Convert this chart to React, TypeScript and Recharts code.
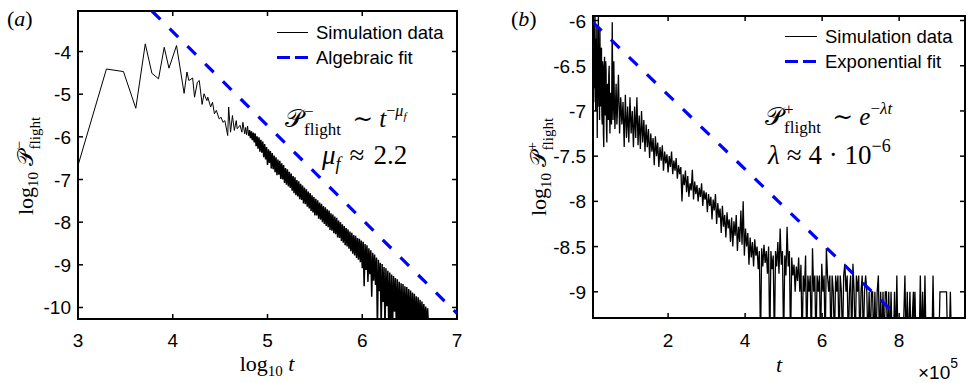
import React from 'react'
import { LineChart, Line, XAxis, YAxis, ReferenceArea } from 'recharts'

// panel (a): log10 t  vs  log10 P-
const simAEarly: [number, number][] = [
  [3.00, -6.67], [3.30, -4.41], [3.48, -4.47], [3.61, -5.33], [3.71, -3.82], [3.78, -4.51],
  [3.85, -4.64], [3.91, -3.90], [3.96, -4.39], [4.04, -3.86], [4.12, -4.98], [4.15, -4.48],
  [4.17, -4.68], [4.21, -4.62], [4.23, -5.07], [4.26, -4.72], [4.28, -4.68], [4.31, -5.24],
  [4.33, -4.99], [4.36, -5.15], [4.37, -5.07], [4.40, -5.30], [4.42, -5.19], [4.44, -5.46],
  [4.46, -5.38], [4.49, -5.58], [4.51, -5.54], [4.53, -5.66], [4.55, -5.62], [4.58, -5.97],
  [4.59, -5.30], [4.61, -5.89], [4.63, -5.50], [4.65, -5.85], [4.67, -5.62], [4.68, -5.81],
  [4.71, -5.73], [4.73, -5.89], [4.74, -5.66], [4.76, -5.93], [4.77, -5.78], [4.78, -5.95],
  [4.79, -5.75], [4.80, -5.97],
]

const simABand: [number, number][] = [
  [4.80, -5.97], [4.81, -5.84], [4.82, -6.03], [4.83, -5.87], [4.84, -6.08], [4.85, -5.90],
  [4.86, -6.13], [4.87, -5.92], [4.88, -6.22], [4.89, -5.99], [4.90, -6.28], [4.91, -6.01],
  [4.92, -6.35], [4.93, -6.07], [4.94, -6.37], [4.95, -6.11], [4.96, -6.48], [4.97, -6.17],
  [4.98, -6.53], [4.99, -6.24], [5.00, -6.66], [5.01, -6.29], [5.02, -6.61], [5.03, -6.33],
  [5.04, -6.74], [5.05, -6.38], [5.06, -6.76], [5.07, -6.44], [5.08, -6.83], [5.09, -6.48],
  [5.10, -6.90], [5.11, -6.53], [5.12, -6.89], [5.13, -6.56], [5.14, -6.99], [5.15, -6.62],
  [5.16, -7.00], [5.17, -6.66], [5.18, -7.08], [5.19, -6.73], [5.20, -7.12], [5.21, -6.76],
  [5.22, -7.16], [5.23, -6.82], [5.24, -7.20], [5.25, -6.86], [5.26, -7.26], [5.27, -6.92],
  [5.28, -7.32], [5.29, -6.95], [5.30, -7.37], [5.31, -7.01], [5.32, -7.40], [5.33, -7.04],
  [5.34, -7.46], [5.35, -7.10], [5.36, -7.48], [5.37, -7.14], [5.38, -7.56], [5.39, -7.19],
  [5.40, -7.58], [5.41, -7.23], [5.42, -7.64], [5.43, -7.28], [5.44, -7.68], [5.45, -7.32],
  [5.46, -7.74], [5.47, -7.37], [5.48, -7.77], [5.49, -7.41], [5.50, -7.84], [5.51, -7.45],
  [5.52, -7.84], [5.53, -7.49], [5.54, -7.92], [5.55, -7.54], [5.56, -7.94], [5.57, -7.57],
  [5.58, -8.00], [5.59, -7.62], [5.60, -8.04], [5.61, -7.65], [5.62, -8.09], [5.63, -7.70],
  [5.64, -8.12], [5.65, -7.73], [5.66, -8.18], [5.67, -7.79], [5.68, -8.20], [5.69, -7.82],
  [5.70, -8.26], [5.71, -7.87], [5.72, -8.28], [5.73, -7.90], [5.74, -8.36], [5.75, -7.96],
  [5.76, -8.37], [5.77, -8.00], [5.78, -8.44], [5.79, -8.05], [5.80, -8.48], [5.81, -8.09],
  [5.82, -8.54], [5.83, -8.14], [5.84, -8.57], [5.85, -8.17], [5.86, -8.62], [5.87, -8.22],
  [5.88, -8.68], [5.89, -8.25], [5.90, -8.74], [5.91, -8.30], [5.92, -8.78], [5.93, -8.32],
  [5.94, -8.84], [5.95, -8.37], [5.96, -8.88], [5.97, -8.39], [5.98, -8.94], [5.99, -8.43],
  [6.00, -9.08], [6.01, -8.46], [6.02, -9.50], [6.03, -8.51], [6.04, -9.12], [6.05, -8.54],
  [6.06, -9.40], [6.07, -8.61], [6.08, -9.22], [6.09, -8.66], [6.10, -9.75], [6.11, -8.72],
  [6.12, -9.37], [6.13, -8.76], [6.14, -9.47], [6.15, -8.83], [6.16, -10.5], [6.17, -8.88],
  [6.18, -9.62], [6.19, -8.95], [6.20, -10.5], [6.21, -8.98], [6.22, -9.87], [6.23, -9.05],
  [6.24, -10.5], [6.25, -9.08], [6.26, -9.97], [6.27, -9.14], [6.28, -10.5], [6.29, -9.18],
  [6.30, -10.5], [6.31, -9.23], [6.32, -10.5], [6.33, -9.26], [6.34, -10.1], [6.35, -9.31],
  [6.36, -10.5], [6.37, -9.34], [6.38, -10.5], [6.39, -9.40], [6.40, -10.5], [6.41, -9.43],
  [6.42, -10.5], [6.43, -9.45], [6.44, -10.5], [6.45, -9.50], [6.46, -10.5], [6.47, -9.52],
  [6.48, -10.5], [6.49, -9.57], [6.50, -10.5], [6.51, -9.60], [6.52, -10.5], [6.53, -9.65],
  [6.54, -10.5], [6.55, -9.68], [6.56, -10.5], [6.57, -9.74], [6.58, -10.5], [6.59, -9.76],
  [6.60, -10.5], [6.61, -9.82], [6.62, -10.5], [6.63, -9.86], [6.64, -10.5], [6.65, -9.92],
  [6.66, -10.5], [6.67, -9.98], [6.68, -10.5], [6.69, -10.02], [6.70, -10.5],
]

const fitA: [number, number][] = [[3.78, -3.05], [7.0, -10.14]]

// panel (b): t (x 1e5)  vs  log10 P+
const simBEarly: [number, number][] = [
  [0.05, -6.20], [0.06, -5.90], [0.07, -6.90], [0.08, -6.10], [0.09, -6.75], [0.10, -5.85],
  [0.11, -6.50], [0.12, -7.00], [0.13, -6.20], [0.14, -6.85], [0.15, -6.05], [0.16, -7.30],
  [0.17, -6.40], [0.18, -6.95], [0.19, -5.90], [0.20, -6.80], [0.21, -6.60], [0.22, -7.10],
  [0.23, -6.10], [0.24, -6.70], [0.25, -6.95], [0.26, -6.35], [0.27, -6.30], [0.28, -7.05],
  [0.29, -7.15], [0.30, -6.45], [0.31, -6.50], [0.32, -7.25], [0.33, -7.40], [0.34, -6.60],
  [0.35, -6.40], [0.36, -6.90], [0.37, -7.05], [0.38, -6.45], [0.39, -6.55], [0.40, -7.20],
  [0.41, -7.35], [0.42, -6.75], [0.43, -6.70], [0.44, -6.95], [0.45, -7.10], [0.46, -6.60],
  [0.47, -6.50], [0.48, -7.00], [0.49, -7.25], [0.50, -6.85], [0.51, -6.80], [0.52, -7.05],
  [0.53, -7.15], [0.54, -6.60], [0.55, -6.02], [0.56, -6.70], [0.57, -7.10], [0.58, -6.80],
  [0.59, -6.45], [0.61, -7.05], [0.62, -7.20], [0.64, -6.85], [0.65, -6.70], [0.67, -7.15],
  [0.68, -7.05], [0.70, -6.75], [0.71, -6.60], [0.73, -7.00], [0.74, -7.25],
]

const simBMain: [number, number][] = [
  [0.77, -6.85], [0.80, -7.15], [0.83, -6.90],
  [0.86, -7.40], [0.89, -6.82], [0.92, -7.30], [0.95, -6.95], [0.98, -7.35], [1.01, -6.85],
  [1.04, -7.25], [1.07, -7.00], [1.10, -7.40], [1.13, -6.95], [1.16, -7.30], [1.19, -6.85],
  [1.22, -7.38], [1.25, -7.05], [1.28, -7.42], [1.31, -7.00], [1.34, -7.35], [1.37, -7.10],
  [1.40, -7.45], [1.43, -7.15], [1.46, -7.40], [1.49, -7.20], [1.52, -7.52], [1.55, -7.25],
  [1.58, -7.45], [1.61, -7.30], [1.64, -7.60], [1.67, -7.28], [1.70, -7.50], [1.73, -7.35],
  [1.76, -7.62], [1.79, -7.40], [1.82, -7.55], [1.85, -7.38], [1.88, -7.66], [1.91, -7.45],
  [1.94, -7.58], [1.97, -7.48], [2.00, -7.68], [2.03, -7.50], [2.06, -7.62], [2.09, -7.45],
  [2.12, -7.70], [2.15, -7.55], [2.18, -7.66], [2.21, -7.52], [2.24, -7.75], [2.27, -7.60],
  [2.30, -7.70], [2.33, -7.62], [2.36, -8.00], [2.39, -7.70], [2.42, -7.82], [2.45, -7.66],
  [2.48, -7.90], [2.51, -7.72], [2.54, -7.95], [2.57, -7.80], [2.60, -7.88], [2.63, -7.65],
  [2.66, -7.98], [2.69, -7.78], [2.72, -7.92], [2.75, -7.82], [2.78, -8.00], [2.81, -7.85],
  [2.84, -7.95], [2.87, -7.80], [2.90, -8.05], [2.93, -7.88], [2.96, -7.98], [2.99, -7.90],
  [3.02, -8.12], [3.05, -7.92], [3.08, -8.05], [3.11, -7.95], [3.14, -8.20], [3.17, -7.98],
  [3.20, -8.10], [3.23, -7.92], [3.26, -8.25], [3.29, -8.02], [3.32, -8.18], [3.35, -8.08],
  [3.38, -8.35], [3.41, -8.05], [3.44, -8.28], [3.47, -8.15], [3.50, -8.40], [3.53, -8.12],
  [3.56, -8.30], [3.59, -8.20], [3.62, -8.45], [3.65, -8.18], [3.68, -8.50], [3.71, -8.22],
  [3.74, -8.38], [3.77, -8.15], [3.80, -8.55], [3.83, -8.28], [3.86, -8.45], [3.89, -8.10],
  [3.92, -8.48], [3.95, -8.00], [3.98, -8.60], [4.01, -8.30], [4.04, -8.50], [4.07, -8.35],
  [4.10, -8.70], [4.13, -8.40], [4.16, -8.62], [4.19, -8.45], [4.22, -8.72], [4.25, -8.42],
  [4.28, -8.60], [4.31, -8.50], [4.34, -8.75], [4.37, -8.55], [4.40, -9.60], [4.43, -8.52],
  [4.46, -8.72], [4.49, -8.48], [4.52, -8.68], [4.55, -8.55], [4.58, -8.80], [4.61, -8.50],
  [4.64, -9.60], [4.67, -8.55], [4.70, -8.75], [4.73, -8.60], [4.76, -9.60], [4.79, -8.55],
  [4.82, -8.72], [4.85, -8.45], [4.88, -8.80], [4.91, -8.30], [4.94, -8.70], [4.97, -8.55],
  [5.00, -9.60], [5.03, -8.60], [5.06, -8.82], [5.09, -8.28], [5.12, -8.72], [5.15, -8.55],
  [5.18, -9.60], [5.21, -8.62], [5.24, -8.82], [5.27, -8.70], [5.30, -9.00], [5.33, -8.72],
  [5.36, -8.88], [5.39, -8.62], [5.42, -9.00], [5.45, -8.70], [5.48, -9.60], [5.51, -8.82],
  [5.54, -9.00], [5.57, -8.60], [5.60, -9.60], [5.63, -8.82], [5.66, -9.00], [5.69, -8.82],
  [5.72, -9.60], [5.75, -8.52], [5.78, -9.00], [5.81, -8.82], [5.84, -9.60], [5.87, -8.82],
  [5.90, -9.00], [5.93, -8.82], [5.96, -9.60], [5.99, -8.69], [6.02, -9.00], [6.05, -8.82],
  [6.08, -9.60], [6.11, -8.52], [6.14, -8.82], [6.17, -9.00], [6.20, -8.82], [6.23, -9.60],
  [6.26, -8.82], [6.29, -9.00], [6.32, -9.60], [6.35, -8.82], [6.38, -9.00], [6.41, -8.82],
  [6.44, -9.60], [6.47, -8.82], [6.50, -9.00], [6.53, -9.60], [6.56, -8.82], [6.59, -8.69],
  [6.62, -9.00], [6.65, -8.82], [6.68, -9.60], [6.71, -9.00], [6.74, -8.82], [6.77, -9.60],
  [6.80, -8.69], [6.83, -9.00], [6.86, -9.60], [6.89, -8.82], [6.92, -9.00], [6.95, -8.82],
  [6.98, -9.60], [7.01, -9.00], [7.04, -8.82], [7.07, -9.60], [7.10, -9.00], [7.13, -8.82],
  [7.16, -9.00], [7.19, -9.60], [7.22, -9.00], [7.25, -9.60], [7.28, -9.00], [7.31, -9.00],
  [7.34, -9.60], [7.37, -9.00], [7.40, -9.60], [7.43, -9.00], [7.46, -8.82], [7.49, -9.60],
  [7.52, -9.00], [7.55, -9.60], [7.58, -9.00], [7.61, -9.60], [7.64, -9.00], [7.67, -9.00],
  [7.70, -9.60], [7.73, -9.00], [7.76, -9.60], [7.79, -9.00], [7.82, -9.60], [7.85, -9.60],
  [7.88, -9.00], [7.91, -9.60], [7.94, -8.82], [7.97, -9.60], [8.10, -9.60], [8.15, -8.82],
  [8.18, -9.60], [8.21, -9.00], [8.24, -9.60], [8.28, -9.00], [8.31, -9.60], [8.37, -9.00],
  [8.39, -9.60], [8.41, -9.00], [8.44, -9.60], [8.52, -9.60], [8.55, -8.82], [8.58, -9.60],
  [8.61, -9.00], [8.64, -9.60], [8.67, -8.82], [8.70, -9.60], [8.85, -9.60], [8.88, -8.82],
  [8.91, -9.60], [9.03, -9.60], [9.06, -9.00], [9.15, -9.00], [9.23, -9.00], [9.26, -9.60],
  [9.30, -9.60], [9.33, -9.00], [9.36, -9.60],
]

const fitB: [number, number][] = [[0.05, -6.02], [8.0, -9.29]]

const ticksAX = [3, 4, 5, 6, 7]
const ticksAY = [-10, -9, -8, -7, -6, -5, -4]
const ticksBX = [2, 4, 6, 8]
const ticksBY = [-9, -8.5, -8, -7.5, -7, -6.5, -6]

const toRows = (pts: [number, number][]) => pts.map(([x, y]) => ({ x, y }))

const SANS = '"Liberation Sans", Arial, Helvetica, sans-serif'
const SERIF = '"Liberation Serif", "DejaVu Serif", "Times New Roman", serif'
const BLUE = '#0000ff'

interface Box { left: number; right: number; top: number; bottom: number }

function makeXTick(box: Box) {
  return (props: any) => {
    const { x, payload } = props
    return (
      <g>
        <line x1={x} x2={x} y1={box.bottom} y2={box.bottom - 5} stroke="#000" strokeWidth={1.5} />
        <line x1={x} x2={x} y1={box.top} y2={box.top + 5} stroke="#000" strokeWidth={1.5} />
        <text x={x} y={347} textAnchor="middle" fontFamily={SANS} fontSize={19} fill="#000">
          {payload.value}
        </text>
      </g>
    )
  }
}

function makeYTick(box: Box) {
  return (props: any) => {
    const { y, payload } = props
    return (
      <g>
        <line x1={box.left} x2={box.left + 5} y1={y} y2={y} stroke="#000" strokeWidth={1.5} />
        <line x1={box.right} x2={box.right - 5} y1={y} y2={y} stroke="#000" strokeWidth={1.5} />
        <text x={box.left - 7} y={y + 7} textAnchor="end" fontFamily={SANS} fontSize={19} fill="#000">
          {payload.value}
        </text>
      </g>
    )
  }
}

function Pflight({ sign, size, sub }: { sign: string; size: number; sub: number }) {
  return (
    <>
      <tspan>𝒫</tspan>
      <tspan fontSize={sub} dx={1} dy={-size * 0.42}>{sign}</tspan>
      <tspan fontSize={sub} dx={-sub * 0.56} dy={size * 0.72}>flight</tspan>
      <tspan dy={-size * 0.3}> </tspan>
    </>
  )
}

const boxA: Box = { left: 78, right: 457, top: 11, bottom: 319 }
const boxB: Box = { left: 113, right: 485, top: 16, bottom: 318 }

function PanelA() {
  return (
    <LineChart width={480} height={383} margin={{ top: 11, right: 23, bottom: 0, left: 0 }}>
      <XAxis type="number" dataKey="x" domain={[3, 7]} ticks={ticksAX} allowDataOverflow
        height={64} axisLine={false} tickLine={false} tick={makeXTick(boxA)} interval={0} />
      <YAxis type="number" dataKey="y" domain={[-10.27, -3.05]} ticks={ticksAY} allowDataOverflow
        width={78} axisLine={false} tickLine={false} tick={makeYTick(boxA)} interval={0} />
      <Line data={toRows(simAEarly)} dataKey="y" stroke="#000" strokeWidth={1}
        dot={false} isAnimationActive={false} />
      <Line data={toRows(simABand)} dataKey="y" stroke="#000" strokeWidth={1.5}
        dot={false} isAnimationActive={false} />
      <Line data={toRows(fitA)} dataKey="y" stroke={BLUE} strokeWidth={3.2} strokeDasharray="12 13"
        dot={false} isAnimationActive={false} />
      <ReferenceArea x1={3} x2={7} y1={-10.27} y2={-3.05} fill="none" stroke="#000" strokeWidth={2} />
    </LineChart>
  )
}

function PanelB() {
  return (
    <LineChart width={489} height={383} margin={{ top: 16, right: 4, bottom: 0, left: 0 }}>
      <XAxis type="number" dataKey="x" domain={[0.05, 9.71]} ticks={ticksBX} allowDataOverflow
        height={65} axisLine={false} tickLine={false} tick={makeXTick(boxB)} interval={0} />
      <YAxis type="number" dataKey="y" domain={[-9.29, -5.95]} ticks={ticksBY} allowDataOverflow
        width={113} axisLine={false} tickLine={false} tick={makeYTick(boxB)} interval={0} />
      <Line data={toRows([...simBEarly, ...simBMain])} dataKey="y" stroke="#000" strokeWidth={1.3}
        dot={false} isAnimationActive={false} />
      <Line data={toRows(fitB)} dataKey="y" stroke={BLUE} strokeWidth={3.2} strokeDasharray="12 13"
        dot={false} isAnimationActive={false} />
      <ReferenceArea x1={0.05} x2={9.71} y1={-9.29} y2={-5.95} fill="none" stroke="#000" strokeWidth={2} />
    </LineChart>
  )
}

function Annotations() {
  return (
    <svg width={969} height={383} style={{ position: 'absolute', left: 0, top: 0, pointerEvents: 'none' }}>
      {/* panel tags */}
      <text x={7} y={26} fontFamily={SERIF} fontSize={22}>(<tspan fontStyle="italic">a</tspan>)</text>
      <text x={511} y={26} fontFamily={SERIF} fontSize={22}>(<tspan fontStyle="italic">b</tspan>)</text>

      {/* legends */}
      <line x1={277} x2={308} y1={32.5} y2={32.5} stroke="#000" strokeWidth={1} />
      <text x={316} y={39} fontFamily={SANS} fontSize={18.5}>Simulation data</text>
      <line x1={277} x2={308} y1={57.5} y2={57.5} stroke={BLUE} strokeWidth={3.2} strokeDasharray="13 5" />
      <text x={316} y={64} fontFamily={SANS} fontSize={18.5}>Algebraic fit</text>

      <line x1={785} x2={817} y1={36.5} y2={36.5} stroke="#000" strokeWidth={1} />
      <text x={825} y={43} fontFamily={SANS} fontSize={18.5}>Simulation data</text>
      <line x1={785} x2={817} y1={61.5} y2={61.5} stroke={BLUE} strokeWidth={3.2} strokeDasharray="13 5" />
      <text x={825} y={68} fontFamily={SANS} fontSize={18.5}>Exponential fit</text>

      {/* fit formulas */}
      <text x={285} y={127} fontFamily={SERIF} fontSize={25}>
        <Pflight sign="−" size={25} sub={17} />
        <tspan dx={5}>∼ </tspan>
        <tspan fontStyle="italic">t</tspan>
        <tspan fontSize={16} dy={-11}>−</tspan>
        <tspan fontSize={16} fontStyle="italic">μ</tspan>
        <tspan fontSize={11} fontStyle="italic" dy={4}>f</tspan>
      </text>
      <text x={322} y={164} fontFamily={SERIF} fontSize={27}>
        <tspan fontStyle="italic">μ</tspan>
        <tspan fontSize={18} fontStyle="italic" dy={6}>f</tspan>
        <tspan dy={-6} dx={9}>≈</tspan>
        <tspan dx={9}>2.2</tspan>
      </text>

      <text x={765} y={125} fontFamily={SERIF} fontSize={25}>
        <Pflight sign="+" size={25} sub={17} />
        <tspan dx={5}>∼ </tspan>
        <tspan fontStyle="italic">e</tspan>
        <tspan fontSize={17} dy={-11}>−</tspan>
        <tspan fontSize={17} fontStyle="italic">λt</tspan>
      </text>
      <text x={768} y={164} fontFamily={SERIF} fontSize={27}>
        <tspan fontStyle="italic">λ</tspan>
        <tspan dx={7}>≈</tspan>
        <tspan dx={7}>4 · 10</tspan>
        <tspan fontSize={18} dy={-12}>−6</tspan>
      </text>

      {/* axis titles */}
      <text x={267} y={371} textAnchor="middle" fontFamily={SERIF} fontSize={22}>
        log<tspan fontSize={15} dy={5}>10</tspan><tspan dy={-5} fontStyle="italic"> t</tspan>
      </text>
      <text x={779} y={372} textAnchor="middle" fontFamily={SERIF} fontSize={22} fontStyle="italic">t</text>
      <text x={918} y={379} fontFamily={SANS} fontSize={19}>
        ×10<tspan fontSize={14} dy={-11}>5</tspan>
      </text>

      <text transform="translate(33,166) rotate(-90)" textAnchor="middle" fontFamily={SERIF} fontSize={22}>
        log<tspan fontSize={15} dy={5}>10</tspan><tspan dy={-5}> </tspan>
        <Pflight sign="−" size={22} sub={15} />
      </text>
      <text transform="translate(546,167) rotate(-90)" textAnchor="middle" fontFamily={SERIF} fontSize={22}>
        log<tspan fontSize={15} dy={5}>10</tspan><tspan dy={-5}> </tspan>
        <Pflight sign="+" size={22} sub={15} />
      </text>
    </svg>
  )
}

export default function App() {
  return (
    <div style={{ position: 'absolute', left: 0, top: 0, width: 969, height: 383, background: '#fff' }}>
      <div style={{ position: 'absolute', left: 0, top: 0 }}>
        <PanelA />
      </div>
      <div style={{ position: 'absolute', left: 480, top: 0 }}>
        <PanelB />
      </div>
      <Annotations />
    </div>
  )
}
